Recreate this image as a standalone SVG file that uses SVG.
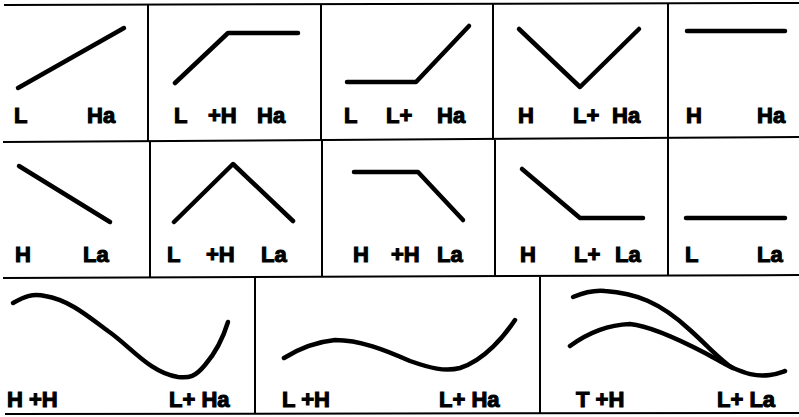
<svg xmlns="http://www.w3.org/2000/svg" width="799" height="417" viewBox="0 0 799 417">
<style>
.grid{stroke:#000;stroke-width:2;fill:none}
.c{stroke:#000;stroke-width:4.5;fill:none;stroke-linecap:round;stroke-linejoin:round}
text{font-family:"Liberation Sans",Arial,sans-serif;font-weight:bold;font-size:22px;fill:#000;stroke:#000;stroke-width:1.1}
</style>
<rect width="799" height="417" fill="#fff"/>
<g id="grid">
<line class="grid" x1="4" y1="5" x2="799" y2="3"/>
<line class="grid" x1="3" y1="142" x2="799" y2="137"/>
<line class="grid" x1="3" y1="278" x2="799" y2="275"/>
<line class="grid" x1="5" y1="414" x2="799" y2="413"/>
<line class="grid" x1="148" y1="5" x2="148" y2="142"/>
<line class="grid" x1="321" y1="4" x2="321" y2="141"/>
<line class="grid" x1="493" y1="4" x2="493" y2="140"/>
<line class="grid" x1="668" y1="3" x2="668" y2="138"/>
<line class="grid" x1="150" y1="142" x2="150" y2="278"/>
<line class="grid" x1="322" y1="141" x2="322" y2="277"/>
<line class="grid" x1="495" y1="140" x2="495" y2="277"/>
<line class="grid" x1="668" y1="138" x2="668" y2="276"/>
<line class="grid" x1="255" y1="278" x2="255" y2="414"/>
<line class="grid" x1="540" y1="277" x2="540" y2="414"/>
</g>
<g id="p1"><polyline class="c" points="18,88 124,28"/><text x="14" y="123">L</text><text x="87" y="123">Ha</text></g>
<g id="p2"><polyline class="c" points="175,83 228,33 298,33"/><text x="174" y="123">L</text><text x="208" y="123">+H</text><text x="257" y="123">Ha</text></g>
<g id="p3"><polyline class="c" points="347,82 416,82 469,26"/><text x="344" y="123">L</text><text x="386" y="123">L+</text><text x="437" y="123">Ha</text></g>
<g id="p4"><polyline class="c" points="519,29 580,87 639,29"/><text x="518" y="123">H</text><text x="573" y="123">L+</text><text x="612" y="123">Ha</text></g>
<g id="p5"><polyline class="c" points="687,31 785,31"/><text x="686" y="123">H</text><text x="757" y="123">Ha</text></g>
<g id="p6"><polyline class="c" points="19,166 110,222"/><text x="15" y="262">H</text><text x="83" y="262">La</text></g>
<g id="p7"><polyline class="c" points="174,222 233,164 293,221"/><text x="167" y="262">L</text><text x="206" y="262">+H</text><text x="261" y="262">La</text></g>
<g id="p8"><polyline class="c" points="354,172 418,172 463,220"/><text x="353" y="262">H</text><text x="391" y="262">+H</text><text x="437" y="262">La</text></g>
<g id="p9"><polyline class="c" points="522,169 580,218 643,218"/><text x="520" y="262">H</text><text x="574" y="262">L+</text><text x="615" y="262">La</text></g>
<g id="p10"><polyline class="c" points="686,218 785,218"/><text x="685" y="262">L</text><text x="757" y="262">La</text></g>
<g id="p11"><path class="c" d="M13,303 C24,297 32,293 45,296 C70,300 90,318 108,331 C130,346 150,373 178,377 C190,378 195,377 205,365 C218,350 224,335 228,322"/><text x="7" y="407">H +H</text><text x="169" y="407">L+ Ha</text></g>
<g id="p12"><path class="c" d="M284,358 C300,348 315,342 335,340 C360,340 385,350 410,361 C430,368 445,372 460,368 C485,360 505,335 515,320"/><text x="282" y="407">L +H</text><text x="439" y="407">L+ Ha</text></g>
<g id="p13"><path class="c" d="M573,297 C585,292 595,290 605,291 C635,293 660,302 690,330 C710,348 722,362 733,368"/><path class="c" d="M570,346 C585,335 605,325 630,324 C650,326 680,340 705,353 C720,361 728,366 733,368 C745,373 755,377 770,375 C777,374 782,372 785,371"/><text x="576" y="407">T +H</text><text x="717" y="407">L+ La</text></g>
</svg>
